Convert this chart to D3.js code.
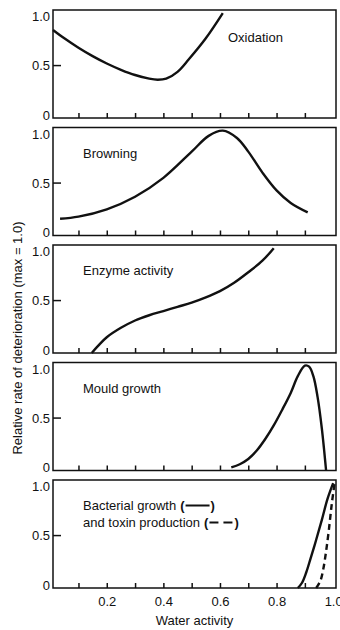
<!DOCTYPE html>
<html>
<head>
<meta charset="utf-8">
<script src="https://cdn.jsdelivr.net/npm/d3@7"></script>
<style>
  body { margin: 0; background: #fff; }
  svg { display: block; }
  text { font-family: "Liberation Sans", Arial, sans-serif; fill: #111; }
</style>
</head>
<body>
<svg width="340" height="630"></svg>
<script>
// panel names, in top-to-bottom order
var panelNames = ["Oxidation", "Browning", "Enzyme activity", "Mould growth", "Bacterial growth"];

// [water activity, relative rate]
var oxidation = [[0.01, 0.84], [0.05, 0.76], [0.1, 0.67], [0.15, 0.59], [0.2, 0.52], [0.25, 0.46],
  [0.3, 0.41], [0.35, 0.375], [0.38, 0.365], [0.41, 0.375], [0.45, 0.44], [0.49, 0.56], [0.55, 0.76], [0.61, 1.0]];
var browning = [[0.035, 0.16], [0.1, 0.18], [0.2, 0.25], [0.3, 0.37], [0.4, 0.55], [0.5, 0.8], [0.56, 0.95],
  [0.61, 1.0], [0.66, 0.93], [0.7, 0.8], [0.75, 0.6], [0.8, 0.43], [0.85, 0.31], [0.91, 0.22]];
var enzyme = [[0.147, 0], [0.17, 0.07], [0.2, 0.15], [0.25, 0.24], [0.3, 0.31], [0.35, 0.36], [0.4, 0.4],
  [0.45, 0.44], [0.5, 0.48], [0.55, 0.53], [0.6, 0.59], [0.65, 0.67], [0.7, 0.77], [0.75, 0.88], [0.79, 1.0]];
var mould = [[0.64, 0.03], [0.67, 0.06], [0.7, 0.11], [0.73, 0.19], [0.76, 0.3], [0.79, 0.43], [0.82, 0.58],
  [0.85, 0.74], [0.875, 0.9], [0.9, 1.0], [0.915, 0.99], [0.93, 0.9], [0.945, 0.7], [0.96, 0.4], [0.975, 0.0]];
var bacteria = [[0.875, 0], [0.89, 0.05], [0.905, 0.15], [0.92, 0.28], [0.94, 0.46], [0.96, 0.65], [0.98, 0.85], [1.0, 1.0]];
var toxin = [[0.94, 0], [0.955, 0.07], [0.965, 0.18], [0.975, 0.35], [0.985, 0.56], [0.995, 0.8], [1.005, 1.0]];

var xTicks = [0.1, 0.2, 0.3, 0.4, 0.5, 0.6, 0.7, 0.8, 0.9];
var xLabels = [0.2, 0.4, 0.6, 0.8, 1.0];
var yTicks = [0, 0.5, 1.0];

var panels = [
  { name: panelNames[0], lines: [{ data: oxidation }] },
  { name: panelNames[1], lines: [{ data: browning }] },
  { name: panelNames[2], lines: [{ data: enzyme }] },
  { name: panelNames[3], lines: [{ data: mould }] },
  { name: panelNames[4], lines: [{ data: bacteria }, { data: toxin, dash: "6,4" }] }
];

var svg = d3.select("svg");
var left = 53, right = 336, panelH = 108, step = 117.5, firstTop = 10;

var x = d3.scaleLinear().domain([0.01, 1.01]).range([left, right]);

panels.forEach(function(p, i) {
  var top = firstTop + i * step;
  var bottom = top + panelH;
  var y = d3.scaleLinear().domain([0, 1.03]).range([bottom, top]);
  var g = svg.append("g");

  g.append("rect")
    .attr("x", left).attr("y", top)
    .attr("width", right - left).attr("height", panelH)
    .attr("fill", "none").attr("stroke", "#111").attr("stroke-width", 1.5);

  // inward ticks along the bottom
  g.append("g")
    .attr("transform", "translate(0," + bottom + ")")
    .call(d3.axisBottom(x).tickValues(xTicks).tickSize(-5).tickFormat(""))
    .call(function(a) {
      a.select(".domain").remove();
      a.selectAll("line").attr("stroke", "#111").attr("stroke-width", 1.5);
    });

  // left axis: labels, nudged so 0 and 1.0 of stacked panels don't collide
  g.append("g")
    .attr("transform", "translate(" + left + ",0)")
    .call(d3.axisLeft(y).tickValues(yTicks).tickSizeOuter(0).tickSizeInner(0).tickPadding(3)
      .tickFormat(function(d) { return d === 0 ? "0" : d.toFixed(1); }))
    .call(function(a) {
      a.select(".domain").remove();
      a.selectAll("text").style("font-size", "13px")
        .style("font-family", "'Liberation Sans', Arial, sans-serif").attr("fill", "#111")
        .attr("dy", function(d) { return d === 0 ? "0.1em" : d === 1 ? "0.6em" : "0.32em"; });
    });
  g.append("line")
    .attr("x1", left).attr("x2", left + 8)
    .attr("y1", y(0.5)).attr("y2", y(0.5))
    .attr("stroke", "#111").attr("stroke-width", 1.5);

  var line = d3.line()
    .x(function(d) { return x(d[0]); })
    .y(function(d) { return y(d[1]); })
    .curve(d3.curveCatmullRom.alpha(0.5));

  p.lines.forEach(function(l) {
    g.append("path")
      .attr("d", line(l.data))
      .attr("fill", "none")
      .attr("stroke", "#111")
      .attr("stroke-width", 2.4)
      .attr("stroke-dasharray", l.dash || null);
  });

  if (i === 0) {
    g.append("text").attr("x", 228).attr("y", top + 32).style("font-size", "13px").text(p.name);
  } else if (i < 4) {
    g.append("text").attr("x", 83).attr("y", top + 30).style("font-size", "13px").text(p.name);
  } else {
    // two-line label with line-style keys
    var rows = [
      { text: "Bacterial growth", dash: null, dy: 30 },
      { text: "and toxin production", dash: "6,4", dy: 47 }
    ];
    rows.forEach(function(r) {
      var t = g.append("text").attr("x", 83).attr("y", top + r.dy).style("font-size", "13px").text(r.text);
      var w = t.node().getComputedTextLength();
      var x0 = 83 + w + 4;
      var o = g.append("text").attr("x", x0).attr("y", top + r.dy)
        .style("font-size", "13px").style("font-weight", "bold").text("(");
      var ow = o.node().getComputedTextLength();
      var segLen = 24;
      g.append("line")
        .attr("x1", x0 + ow + 1).attr("x2", x0 + ow + 1 + segLen)
        .attr("y1", top + r.dy - 4.5).attr("y2", top + r.dy - 4.5)
        .attr("stroke", "#111").attr("stroke-width", 2)
        .attr("stroke-dasharray", r.dash ? "9,5" : null);
      g.append("text").attr("x", x0 + ow + segLen + 2).attr("y", top + r.dy)
        .style("font-size", "13px").style("font-weight", "bold").text(")");
    });

    // x tick labels under the last panel
    g.append("g")
      .attr("transform", "translate(0," + bottom + ")")
      .call(d3.axisBottom(x).tickValues(xLabels).tickSize(0).tickPadding(9)
        .tickFormat(d3.format(".1f")))
      .call(function(a) {
        a.select(".domain").remove();
        a.selectAll("text").style("font-size", "13px")
          .style("font-family", "'Liberation Sans', Arial, sans-serif").attr("fill", "#111");
      });
  }
});

// axis titles
svg.append("text")
  .attr("x", (left + right) / 2).attr("y", 625)
  .attr("text-anchor", "middle").style("font-size", "13px")
  .text("Water activity");

svg.append("text")
  .attr("transform", "translate(22,338) rotate(-90)")
  .attr("text-anchor", "middle").style("font-size", "13px")
  .text("Relative rate of deterioration (max = 1.0)");
</script>
</body>
</html>
